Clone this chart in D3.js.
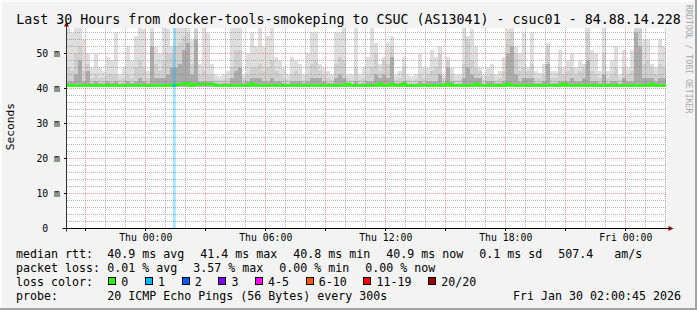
<!DOCTYPE html>
<html>
<head>
<meta charset="utf-8">
<script src="https://cdn.jsdelivr.net/npm/d3@7"></script>
<style>
html, body { margin: 0; padding: 0; background: #f3f3f3; }
svg { display: block; }
text { font-family: "DejaVu Sans Mono", monospace; white-space: pre; }
</style>
</head>
<body>
<svg id="chart" width="697" height="310"></svg>
<script>
// time window of the graph (30 hours, ending at the probe timestamp)
const startTime = new Date(2026, 0, 28, 20, 0, 45);
const endTime = new Date(2026, 0, 30, 2, 0, 45);
const stepMinutes = 12;

// smoke, one value per 12 minute slot (ms): outer / middle / inner ping spread
const smokeHi = [
  60, 56, 60, 60, 54, 50, 46, 50, 46, 45,
  49, 48, 56, 44, 46, 52, 48, 55, 58, 57,
  45, 60, 52, 50, 60, 57, 52, 60, 60, 60,
  60, 54, 60, 47, 58, 56, 47, 44, 43.5, 44,
  45, 60, 60, 60, 44, 50, 56, 52, 60, 52,
  55, 60, 49, 48, 46, 44, 49, 48, 47, 44,
  50, 56, 56, 47, 46, 45, 44, 56, 56, 60,
  44, 44, 60, 44, 46, 49, 60, 53, 47, 49,
  53, 55, 44, 45, 49, 44, 43.5, 44, 50, 46,
  46, 51, 49, 52, 44, 49, 46, 44, 44, 60,
  55, 57, 52, 46, 44, 46, 47, 44, 45, 49,
  57, 60, 52, 50, 56, 46, 56, 45, 44.5, 47,
  53, 45, 45, 51, 46, 48, 50, 46, 48, 47,
  58, 51, 50, 45, 60, 45, 48, 52, 44, 51,
  46, 51, 60, 60, 54, 54, 47, 46, 54, 52
];
const smokeMid = [
  46, 45, 50, 52, 45, 47, 43, 44, 43, 43,
  44, 44, 44, 42.5, 43, 44, 43, 46, 48, 46,
  43, 56, 47, 45, 48, 50, 50, 52, 53, 55,
  56, 47, 57, 44, 45, 44, 44, 42.5, 42.3, 42.5,
  43, 46, 51, 51, 43, 44, 46, 46, 47, 45,
  46, 48, 45, 44, 43, 42.5, 44, 45, 44, 42.5,
  44, 47, 48, 45, 44, 43, 42.5, 47, 49, 48,
  43, 42.5, 46, 42.5, 43, 44, 46, 50, 45, 48,
  47, 52, 42.5, 43, 46, 42.5, 42.3, 42.5, 44, 43,
  44, 45, 46, 50, 43, 48, 44, 42.5, 42.5, 47,
  54, 48, 46, 45, 42.5, 43.5, 44, 42.5, 43, 45,
  54, 56, 50, 45, 46, 45, 47, 43, 43, 44,
  52, 43, 43, 46, 44, 45, 46, 44, 45, 46,
  56, 45, 44, 43, 50, 43, 44, 46, 42.5, 46,
  44, 45, 58, 57, 47, 48, 46, 44, 47, 46
];
const smokeDark = [
  42, 42, 44, 48, 42, 45, 41.5, 42, 41.5, 41.5,
  42, 41.5, 42, 41.3, 41.5, 42, 41.5, 42, 43, 42,
  41.5, 52, 43, 43, 43, 44, 46, 46, 47, 51,
  53, 44, 54, 42, 42, 42, 42, 41.5, 41.3, 41.5,
  41.5, 43, 45, 46, 41.5, 42, 43, 43, 43, 42,
  42, 43, 42, 42, 41.5, 41.3, 42, 42, 42, 41.5,
  42, 43, 43, 43, 42, 41.5, 41.5, 43, 44, 43,
  41.5, 41.3, 42, 41.3, 41.5, 42, 42, 44, 43, 44,
  43, 49, 41.5, 41.5, 42, 41.3, 41.3, 41.3, 42, 41.5,
  42, 42, 42, 44, 41.5, 46, 42, 41.3, 41.3, 43,
  46, 44, 43, 43, 41.3, 42, 42, 41.5, 41.5, 42,
  50, 52, 44, 42, 43, 43, 43, 41.5, 41.5, 42,
  47, 41.5, 41.5, 42, 42, 42, 43, 42, 42, 43,
  48, 42, 42, 41.5, 44, 41.5, 42, 42, 41.3, 43,
  42, 42, 56, 52, 43, 43, 43, 42, 43, 43
];
const medianRtt = [
  40.9, 40.9, 40.9, 40.9, 40.9, 40.9, 40.9, 40.9, 40.9, 40.9,
  40.9, 40.9, 40.9, 40.9, 40.9, 40.9, 40.9, 40.9, 40.9, 40.9,
  40.9, 40.9, 40.9, 40.9, 40.9, 40.9, 40.9, 41.1, 41.1, 41.2,
  41.5, 40.9, 41.2, 41.2, 41.2, 41.2, 41.2, 40.9, 40.9, 40.9,
  40.9, 40.9, 40.9, 40.9, 40.9, 40.9, 41.3, 40.9, 40.9, 40.9,
  40.9, 40.9, 40.9, 40.9, 40.9, 40.9, 40.9, 40.9, 40.9, 40.9,
  40.9, 40.9, 40.9, 40.9, 40.9, 40.9, 40.9, 40.9, 40.9, 40.9,
  41.3, 40.9, 40.9, 40.9, 40.9, 40.9, 40.9, 40.9, 41.3, 40.9,
  40.9, 41.2, 40.9, 40.9, 41.3, 40.9, 40.9, 40.9, 40.9, 40.9,
  40.9, 40.9, 40.9, 40.9, 40.9, 41.3, 40.9, 40.9, 40.9, 40.9,
  40.9, 40.9, 41.3, 40.9, 40.9, 40.9, 40.9, 40.9, 40.9, 40.9,
  41.3, 40.9, 40.9, 40.9, 40.9, 40.9, 40.9, 40.9, 40.9, 40.9,
  40.9, 40.9, 40.9, 40.9, 41.3, 40.9, 40.9, 40.9, 40.9, 40.9,
  40.9, 40.9, 40.9, 40.9, 40.9, 40.9, 40.9, 40.9, 40.9, 40.9,
  40.9, 40.9, 40.9, 40.9, 40.9, 40.9, 41.3, 40.9, 40.9, 40.9
];

// packet loss events
const lossStart = [new Date(2026, 0, 29, 1, 21)];
const lossMinutes = [9];
const lossPings = [1];

// y axis
const yMax = 57.3;
const yTicks = [0, 10, 20, 30, 40, 50];

// legend
const titleText = "Last 30 Hours from docker-tools-smokeping to CSUC (AS13041) - csuc01 - 84.88.14.228";
const rttValues = [40.9, 41.4, 40.8, 40.9];
const rttNames = ["avg", "max", "min", "now"];
const rttSd = 0.1;
const rttAmS = 507.4;
const lossPctValues = [0.01, 3.57, 0.00, 0.00];
const lossLabels = ["0", "1", "2", "3", "4-5", "6-10", "11-19", "20/20"];
const lossColors = ["#26ff00", "#00b8ff", "#0059ff", "#7e00ff", "#ff00ff", "#ff5500", "#ff0000", "#a10000"];
const probeText = "20 ICMP Echo Pings (56 Bytes) every 300s";
const stampText = "Fri Jan 30 02:00:45 2026";

const svg = d3.select("#chart");
const W = 697, H = 310;
const plot = { left: 66, right: 666, top: 28, bottom: 228.5 };
const cw = 7.0; // legend char width

var x = d3.scaleTime().domain([startTime, endTime]).range([plot.left, plot.right]);
var y = d3.scaleLinear().domain([0, yMax]).range([plot.bottom, plot.top]);

// background + frame
svg.append("rect").attr("width", W).attr("height", H).attr("fill", "#f3f3f3");
svg.append("rect").attr("x", 0).attr("y", 0).attr("width", W).attr("height", 2).attr("fill", "#fcfcfc");
svg.append("rect").attr("x", 0).attr("y", 0).attr("width", 2).attr("height", H).attr("fill", "#fcfcfc");
svg.append("rect").attr("x", 0).attr("y", H - 2).attr("width", W).attr("height", 2).attr("fill", "#a2a2a2");
svg.append("rect").attr("x", W - 2).attr("y", 0).attr("width", 2).attr("height", H).attr("fill", "#a2a2a2");

svg.append("rect")
    .attr("x", plot.left + 1).attr("y", plot.top)
    .attr("width", plot.right - plot.left).attr("height", plot.bottom - plot.top)
    .attr("fill", "#ffffff");

svg.append("clipPath").attr("id", "clip")
  .append("rect")
    .attr("x", plot.left + 1).attr("y", plot.top)
    .attr("width", plot.right - plot.left).attr("height", plot.bottom - plot.top);

const cols = smokeHi.map((h, i) => ({
    t0: d3.timeMinute.offset(startTime, i * stepMinutes),
    t1: d3.timeMinute.offset(startTime, (i + 1) * stepMinutes),
    hi: h, mid: smokeMid[i], dark: smokeDark[i], med: medianRtt[i]
}));

const smokeBase = 40.5;
const layers = [
    { key: "hi", color: "#dedede" },
    { key: "mid", color: "#cfcfcf" },
    { key: "dark", color: "#ababab" }
];

const smoke = svg.append("g").attr("clip-path", "url(#clip)");
layers.forEach(function (l) {
    smoke.append("g").selectAll("rect")
        .data(cols)
        .join("rect")
        .attr("x", d => x(d.t0))
        .attr("width", d => x(d.t1) - x(d.t0))
        .attr("y", d => y(d[l.key]))
        .attr("height", d => y(smokeBase) - y(d[l.key]))
        .attr("fill", l.color);
});

// loss background bars
const losses = lossStart.map((t, i) => ({
    t0: t, t1: d3.timeMinute.offset(t, lossMinutes[i]), pings: lossPings[i]
}));
function lossColor(n) {
    var idx = [0, 1, 2, 3, 5, 10, 19, 20].findIndex(v => n <= v);
    return lossColors[idx];
}
smoke.append("g").selectAll("rect")
    .data(losses)
    .join("rect")
    .attr("x", d => x(d.t0))
    .attr("width", d => x(d.t1) - x(d.t0))
    .attr("y", plot.top)
    .attr("height", plot.bottom - plot.top)
    .attr("fill", d => lossColor(d.pings))
    .attr("opacity", 0.36);

// grid
const grid = svg.append("g");
const minorY = d3.range(2, yMax, 2).filter(v => v % 10 !== 0);
grid.selectAll(".gy").data(minorY).join("line")
    .attr("x1", plot.left + 1).attr("x2", plot.right + 1)
    .attr("y1", d => Math.round(y(d) - 0.5) + 0.5).attr("y2", d => Math.round(y(d) - 0.5) + 0.5)
    .attr("stroke", "rgba(130,130,130,0.6)").attr("stroke-dasharray", "1,1");
const hours = d3.timeHour.every(1).range(startTime, endTime);
grid.selectAll(".gx").data(hours.filter(h => h.getHours() % 3 !== 0)).join("line")
    .attr("x1", d => Math.floor(x(d)) + 0.5).attr("x2", d => Math.floor(x(d)) + 0.5)
    .attr("y1", plot.top).attr("y2", plot.bottom)
    .attr("stroke", "rgba(130,130,130,0.6)").attr("stroke-dasharray", "1,1");
grid.selectAll(".my").data(yTicks.filter(v => v > 0)).join("line")
    .attr("x1", plot.left + 1).attr("x2", plot.right + 1)
    .attr("y1", d => Math.round(y(d) - 0.5) + 0.5).attr("y2", d => Math.round(y(d) - 0.5) + 0.5)
    .attr("stroke", "rgba(235,90,90,0.6)").attr("stroke-dasharray", "1,1");
grid.selectAll(".mx").data(hours.filter(h => h.getHours() % 3 === 0)).join("line")
    .attr("x1", d => Math.floor(x(d)) + 0.5).attr("x2", d => Math.floor(x(d)) + 0.5)
    .attr("y1", plot.top).attr("y2", plot.bottom)
    .attr("stroke", "rgba(235,90,90,0.6)").attr("stroke-dasharray", "1,1");

// median line
const medPts = cols.map(c => ({ t: c.t0, v: c.med }));
medPts.push({ t: endTime, v: medianRtt[medianRtt.length - 1] });
const medLine = d3.line().x(d => x(d.t)).y(d => y(d.v)).curve(d3.curveStepAfter);
svg.append("path")
    .attr("d", medLine(medPts))
    .attr("fill", "none")
    .attr("stroke", lossColors[0])
    .attr("stroke-width", 2.5);

svg.append("g").selectAll("line")
    .data(losses)
    .join("line")
    .attr("x1", d => x(d.t0)).attr("x2", d => x(d.t1))
    .attr("y1", d => y(medianRtt[Math.floor((d.t0 - startTime) / 60000 / stepMinutes)]))
    .attr("y2", d => y(medianRtt[Math.floor((d.t0 - startTime) / 60000 / stepMinutes)]))
    .attr("stroke", d => lossColor(d.pings))
    .attr("stroke-width", 2.5);

// axes
const axisG = svg.append("g");
axisG.append("line")
    .attr("x1", plot.left - 3.5).attr("x2", plot.right + 3)
    .attr("y1", plot.bottom).attr("y2", plot.bottom)
    .attr("stroke", "#000");
axisG.append("line")
    .attr("x1", plot.left + 0.5).attr("x2", plot.left + 0.5)
    .attr("y1", plot.bottom + 3).attr("y2", plot.top - 2)
    .attr("stroke", "#333");
axisG.append("path")
    .attr("d", "M" + (plot.right + 2.5) + "," + (plot.bottom - 2.5) + "L" + (plot.right + 7.5) + "," + plot.bottom + "L" + (plot.right + 2.5) + "," + (plot.bottom + 2.5) + "Z")
    .attr("fill", "#8b0000");
axisG.append("path")
    .attr("d", "M" + (plot.left - 2) + "," + (plot.top - 1.5) + "L" + (plot.left + 0.5) + "," + (plot.top - 6.5) + "L" + (plot.left + 3) + "," + (plot.top - 1.5) + "Z")
    .attr("fill", "#8b0000");

axisG.selectAll(".xt").data(hours.filter(h => h.getHours() % 3 === 0)).join("line")
    .attr("x1", d => Math.floor(x(d)) + 0.5).attr("x2", d => Math.floor(x(d)) + 0.5)
    .attr("y1", plot.bottom).attr("y2", plot.bottom + 2.5)
    .attr("stroke", "#000");
axisG.selectAll(".yt").data(yTicks).join("line")
    .attr("x1", plot.left - 2).attr("x2", plot.left)
    .attr("y1", d => Math.round(y(d) - 0.5) + 0.5).attr("y2", d => Math.round(y(d) - 0.5) + 0.5)
    .attr("stroke", "#000");

// tick labels
const labelTimes = d3.timeHour.every(6).range(startTime, endTime);
const fmt = d3.timeFormat("%a %H:%M");
axisG.selectAll(".xl").data(labelTimes).join("text")
    .attr("x", d => x(d))
    .attr("y", 240.8)
    .attr("text-anchor", "middle")
    .attr("font-size", "9.8px")
    .text(d => fmt(d));
axisG.selectAll(".yl").data(yTicks).join("text")
    .attr("x", 60)
    .attr("y", d => y(d) + 3.3)
    .attr("text-anchor", "end")
    .attr("font-size", "9.8px")
    .text(d => d === 0 ? "0  " : d + " m");

// title, axis title, watermark
svg.append("text")
    .attr("x", W / 2).attr("y", 24)
    .attr("text-anchor", "middle")
    .attr("font-size", "13.3px")
    .text(titleText);
svg.append("text")
    .attr("transform", "translate(14,126.7) rotate(-90)")
    .attr("text-anchor", "middle")
    .attr("font-size", "11.2px")
    .text("Seconds");
svg.append("text")
    .attr("transform", "translate(685.5,5) rotate(90)")
    .attr("font-size", "8.2px")
    .attr("fill", "#a9a9a9")
    .text("RRDTOOL / TOBI OETIKER");

// legend
const leg = svg.append("g").attr("font-size", "11.63px");
function row(yy, label, items, gap) {
    leg.append("text").attr("x", 16).attr("y", yy).text(label);
    var xx = 107.3;
    items.forEach(function (s) {
        leg.append("text").attr("x", xx).attr("y", yy).text(s);
        xx += s.length * cw + gap;
    });
}
row(258, "median rtt:",
    rttValues.map((v, i) => v.toFixed(1) + " ms " + rttNames[i])
        .concat([rttSd.toFixed(1) + " ms sd", rttAmS.toFixed(1) + "   am/s"]), 16);
row(272, "packet loss:",
    lossPctValues.map((v, i) => v.toFixed(2) + " % " + rttNames[i]), 16);

leg.append("text").attr("x", 16).attr("y", 286).text("loss color:");
var bx = 108.3;
lossLabels.forEach(function (lab, i) {
    leg.append("rect")
        .attr("x", Math.round(bx) + 0.5).attr("y", 277.5)
        .attr("width", 7).attr("height", 7)
        .attr("fill", lossColors[i]).attr("stroke", "#000");
    leg.append("text").attr("x", bx + 13).attr("y", 286).text(lab);
    bx += 13 + lab.length * cw + 16.7;
});

leg.append("text").attr("x", 16).attr("y", 300).text("probe:");
leg.append("text").attr("x", 107.3).attr("y", 300).text(probeText);
leg.append("text").attr("x", 681).attr("y", 300).attr("text-anchor", "end").text(stampText);
</script>
</body>
</html>
